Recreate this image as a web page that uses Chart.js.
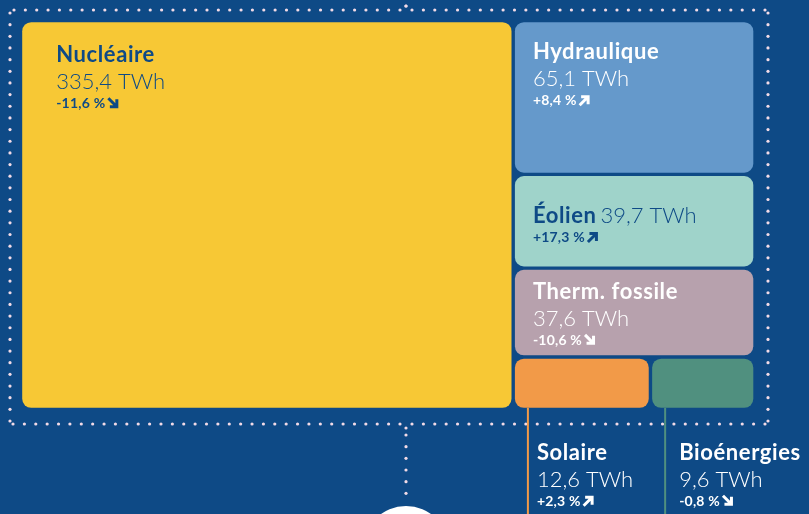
<!DOCTYPE html>
<html>
<head>
<meta charset="utf-8">
<script src="https://cdn.jsdelivr.net/npm/chart.js@4"></script>
<style>
  html, body { margin: 0; background: #0e4a86; }
  canvas { display: block; }
</style>
</head>
<body>
<canvas id="main_chart" width="809" height="514"></canvas>
<script>
// production d'électricité 2023 (TWh) et évolution
const sources = ['Nucléaire', 'Hydraulique', 'Éolien', 'Therm. fossile', 'Solaire', 'Bioénergies'];
const production = [335.4, 65.1, 39.7, 37.6, 12.6, 9.6];
const changes = ['-11,6 %', '+8,4 %', '+17,3 %', '-10,6 %', '+2,3 %', '-0,8 %'];
const trend = ['down', 'up', 'up', 'down', 'up', 'down'];

const box_colors = ['#f7c835', '#6599cb', '#9fd3ca', '#b7a1ad', '#f29a48', '#50907f'];
const navy = '#0e4a86';
const dot_color = '#f3dbe7';

// label placement, per tile (pixels from tile corner)
const label_style = [
  { dx: 34, dy: 40, color: navy },
  { dx: 18, dy: 37, color: '#ffffff' },
  { dx: 18, dy: 47, color: navy, inline: true },
  { dx: 18, dy: 29, color: '#ffffff' },
  { dx: 22, dy: 52, color: '#ffffff', outside: true, line: 13 },
  { dx: 27, dy: 52, color: '#ffffff', outside: true, line: 13 },
];

const fmt = v => v.toFixed(1).replace('.', ',') + ' TWh';

// slice-and-dice layout in data units: x in TWh, y from 0 to 1
const build_rects = () => {
  const total = production.reduce((a, b) => a + b, 0);
  const right = total - production[0];
  const rects = [{ x0: 0, x1: production[0], y0: 0, y1: 1 }];
  let y = 0;
  for (let i = 1; i <= 3; i++) {
    const h = production[i] / right;
    rects.push({ x0: production[0], x1: total, y0: y, y1: y + h });
    y += h;
  }
  const split = production[0] + right * production[4] / (production[4] + production[5]);
  rects.push({ x0: production[0], x1: split, y0: y, y1: 1 });
  rects.push({ x0: split, x1: total, y0: y, y1: 1 });
  return { rects, total };
};

const { rects, total } = build_rects();

const corners = rects.flatMap(r => [{ x: r.x0, y: r.y0 }, { x: r.x1, y: r.y1 }]);

const draw_arrow = (ctx, x, y, dir, color) => {
  const s = 10;
  ctx.save();
  ctx.strokeStyle = color;
  ctx.lineWidth = 3;
  ctx.lineCap = 'butt';
  ctx.lineJoin = 'miter';
  ctx.beginPath();
  if (dir === 'down') {
    ctx.moveTo(x, y - s);
    ctx.lineTo(x + s - 1.5, y - 1.5);
    ctx.moveTo(x + 1.5, y - 1.5);
    ctx.lineTo(x + s - 1.5, y - 1.5);
    ctx.lineTo(x + s - 1.5, y - s + 1);
  } else {
    ctx.moveTo(x, y);
    ctx.lineTo(x + s - 1.5, y - s + 1.5);
    ctx.moveTo(x + 1.5, y - s + 1.5);
    ctx.lineTo(x + s - 1.5, y - s + 1.5);
    ctx.lineTo(x + s - 1.5, y - 1);
  }
  ctx.stroke();
  ctx.restore();
};

const dotted = (ctx, pts, step) => {
  ctx.fillStyle = dot_color;
  for (let k = 0; k < pts.length - 1; k++) {
    const [ax, ay] = pts[k];
    const [bx, by] = pts[k + 1];
    const len = Math.hypot(bx - ax, by - ay);
    const n = Math.max(1, Math.round(len / step));
    for (let j = 0; j < n; j++) {
      const t = j / n;
      ctx.beginPath();
      ctx.arc(ax + (bx - ax) * t, ay + (by - ay) * t, 1.6, 0, Math.PI * 2);
      ctx.fill();
    }
  }
};

const treemap_plugin = {
  id: 'treemap',
  beforeDatasetsDraw(chart) {
    const { ctx, scales: { x, y } } = chart;
    ctx.save();

    // dotted frame and connectors
    dotted(ctx, [[14, 10], [400, 10], [406, 6], [412, 10], [765, 10], [768, 13], [768, 421], [765, 424],
      [412, 424], [406, 428], [400, 424], [13, 424], [10, 421], [10, 13], [14, 10]], 11.5);
    dotted(ctx, [[406, 6], [406, -6]], 11.5);
    dotted(ctx, [[406, 435], [406, 505]], 11.6);
    ctx.fillStyle = '#ffffff';
    ctx.beginPath();
    ctx.arc(406, 549, 43, 0, Math.PI * 2);
    ctx.fill();

    const gap = 1.7;
    rects.forEach((r, i) => {
      const left = x.getPixelForValue(r.x0) + gap;
      const right = x.getPixelForValue(r.x1) - gap;
      const top = y.getPixelForValue(r.y0) + gap;
      const bottom = y.getPixelForValue(r.y1) - gap;
      ctx.fillStyle = box_colors[i];
      ctx.beginPath();
      ctx.roundRect(left, top, right - left, bottom - top, 9);
      ctx.fill();

      const st = label_style[i];
      let tx = left + st.dx;
      let ty = (st.outside ? bottom : top) + st.dy;

      if (st.outside) {
        ctx.strokeStyle = box_colors[i];
        ctx.lineWidth = 2;
        ctx.beginPath();
        ctx.moveTo(left + st.line, bottom);
        ctx.lineTo(left + st.line, 514);
        ctx.stroke();
      }

      ctx.fillStyle = st.color;
      ctx.textBaseline = 'alphabetic';
      ctx.textAlign = 'left';
      ctx.letterSpacing = '0.6px';
      ctx.font = 'bold 22px Lato, "Open Sans", sans-serif';
      ctx.fillText(sources[i], tx, ty);
      if (st.inline) {
        const w = ctx.measureText(sources[i] + ' ').width;
        ctx.letterSpacing = '0px';
        ctx.font = '300 22px Lato, "Open Sans", sans-serif';
        ctx.fillText(fmt(production[i]), tx + w - 2, ty);
      } else {
        ty += 27;
        ctx.letterSpacing = '0px';
        ctx.font = '300 22px Lato, "Open Sans", sans-serif';
        ctx.fillText(fmt(production[i]), tx, ty);
      }
      ty += 19;
      ctx.letterSpacing = '0.2px';
      ctx.font = 'bold 14px Lato, "Open Sans", sans-serif';
      ctx.fillText(changes[i], tx, ty);
      const pw = ctx.measureText(changes[i]).width;
      ctx.letterSpacing = '0px';
      draw_arrow(ctx, tx + pw + 3, ty, trend[i], st.color);
    });
    ctx.restore();
  }
};

new Chart('main_chart', {
  type: 'scatter',
  data: {
    datasets: [{
      label: 'Production',
      data: corners,
      pointRadius: 0,
      pointHoverRadius: 0,
    }]
  },
  options: {
    responsive: false,
    animation: false,
    events: [],
    layout: { padding: { left: 20.5, right: 54, top: 20.5, bottom: 104.5 } },
    plugins: { legend: { display: false }, tooltip: { enabled: false } },
    scales: {
      x: { type: 'linear', min: 0, max: total, display: false },
      y: { type: 'linear', min: 0, max: 1, reverse: true, display: false },
    }
  },
  plugins: [treemap_plugin],
});
</script>
</body>
</html>
